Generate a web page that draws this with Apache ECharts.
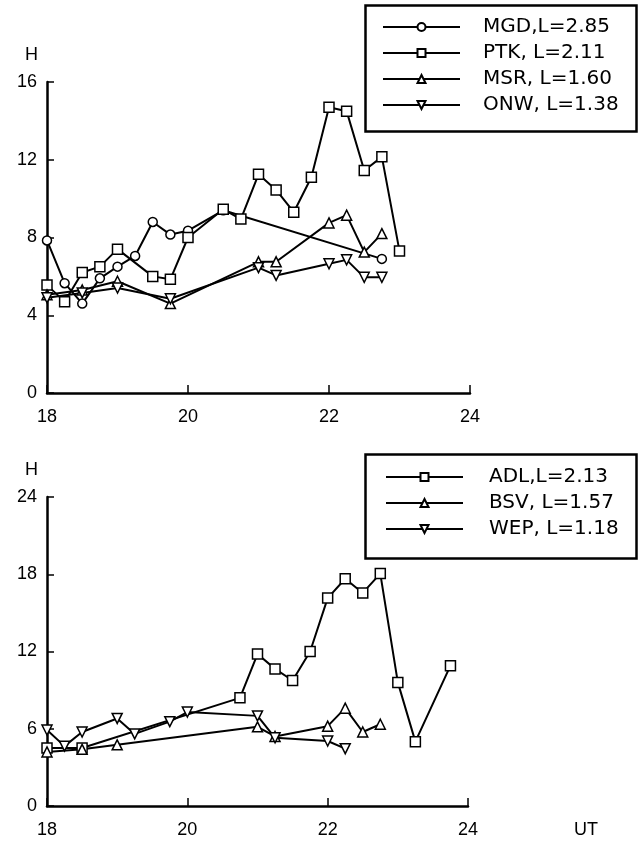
<!DOCTYPE html>
<html>
<head>
<meta charset="utf-8">
<script src="https://cdn.jsdelivr.net/npm/echarts@6/dist/echarts.min.js"></script>
<style>
  html, body { margin:0; padding:0; background:#fff; }
  #chart { width:639px; height:845px; }
</style>
</head>
<body>
<div id="chart"></div>
<script>
// top panel
const mgdUT = [18, 18.25, 18.5, 18.75, 19, 19.25, 19.5, 19.75, 20, 20.5, 22.75];
const mgdH  = [7.85, 5.65, 4.6, 5.9, 6.5, 7.05, 8.8, 8.15, 8.35, 9.4, 6.9];
const ptkUT = [18, 18.25, 18.5, 18.75, 19, 19.5, 19.75, 20, 20.5, 20.75, 21, 21.25, 21.5, 21.75, 22, 22.25, 22.5, 22.75, 23];
const ptkH  = [5.55, 4.7, 6.2, 6.5, 7.4, 6.0, 5.85, 8.0, 9.45, 8.95, 11.25, 10.45, 9.3, 11.1, 14.7, 14.5, 11.45, 12.15, 7.3];
const msrUT = [18, 18.5, 19, 19.75, 21, 21.25, 22, 22.25, 22.5, 22.75];
const msrH  = [5.05, 5.3, 5.75, 4.6, 6.75, 6.75, 8.75, 9.15, 7.25, 8.2];
const onwUT = [18, 18.5, 19, 19.75, 21, 21.25, 22, 22.25, 22.5, 22.75];
const onwH  = [4.9, 5.15, 5.4, 4.85, 6.45, 6.05, 6.65, 6.85, 5.95, 5.95];

// bottom panel
const adlUT = [18, 18.5, 20.75, 21, 21.25, 21.5, 21.75, 22, 22.25, 22.5, 22.75, 23, 23.25, 23.75];
const adlH  = [4.5, 4.5, 8.4, 11.8, 10.65, 9.75, 12.0, 16.15, 17.65, 16.55, 18.05, 9.6, 5.0, 10.9];
const bsvUT = [18, 18.5, 19, 21, 21.25, 22, 22.25, 22.5, 22.75];
const bsvH  = [4.2, 4.4, 4.75, 6.15, 5.4, 6.2, 7.6, 5.75, 6.35];
const wepUT = [18, 18.25, 18.5, 19, 19.25, 19.75, 20, 21, 21.25, 22, 22.25];
const wepH  = [5.9, 4.65, 5.75, 6.8, 5.6, 6.55, 7.3, 7.0, 5.3, 5.05, 4.45];

const xTicks = [18, 20, 22, 24];
const topTicks = [0, 4, 8, 12, 16];
const botTicks = [0, 6, 12, 18, 24];

const topNames = ["MGD,L=2.85", "PTK, L=2.11", "MSR, L=1.60", "ONW, L=1.38"];
const botNames = ["ADL,L=2.13", "BSV, L=1.57", "WEP, L=1.18"];

const FONT = "'Liberation Sans', Arial, sans-serif";
const WIDE = "'DejaVu Sans', sans-serif";

function pairs(xs, ys){ return xs.map((x,i) => [x, ys[i]]); }

function mkSeries(name, xs, ys, idx, symbol, size, rotate){
  return {
    name, type:'line', xAxisIndex: idx, yAxisIndex: idx,
    data: pairs(xs, ys),
    symbol, symbolSize: size, symbolRotate: rotate || 0,
    showAllSymbol: true,
    lineStyle: { color:'#000', width:2 },
    itemStyle: { color:'#fff', borderColor:'#000', borderWidth:1.5 },
    emphasis: { disabled: true },
    animation: false
  };
}

function xAxisCfg(idx, name){
  return {
    type:'value', gridIndex: idx, min: xTicks[0], max: xTicks[xTicks.length-1], interval: 2,
    axisLine: { lineStyle: { color:'#000', width:2.5 } },
    axisTick: { inside:true, length:8, lineStyle:{ color:'#000', width:1.5 } },
    axisLabel: { color:'#000', fontSize:18, fontFamily: FONT, margin:15 },
    splitLine: { show:false },
    name: name || '', nameLocation:'end', nameGap: 106,
    nameTextStyle: { color:'#000', fontSize:18, fontFamily: FONT, verticalAlign:'top', padding:[15,0,0,0] }
  };
}
function yAxisCfg(idx, ticks){
  return {
    type:'value', gridIndex: idx, min: ticks[0], max: ticks[ticks.length-1], interval: ticks[1]-ticks[0],
    axisLine: { show:true, lineStyle: { color:'#000', width:2.5 } },
    axisTick: { show:true, inside:true, length:7, lineStyle:{ color:'#000', width:1.5 } },
    axisLabel: { color:'#000', fontSize:18, fontFamily: FONT, margin:10 },
    splitLine: { show:false },
    name:'H', nameLocation:'end', nameGap: 18,
    nameTextStyle: { color:'#000', fontSize:18, fontFamily: FONT, align:'right', padding:[0,9,0,0] }
  };
}

function legendCfg(names, left, top, gap){
  return {
    data: names, orient:'vertical', left, top,
    itemWidth: 77, itemHeight: 10, itemGap: 6,
    selectedMode: false,
    textStyle: { color:'#000', fontSize:20, fontFamily: WIDE, lineHeight:20, padding:[0,0,0,gap] }
  };
}

const chart = echarts.init(document.getElementById('chart'));
chart.setOption({
  animation: false,
  textStyle: { fontFamily: FONT },
  grid: [
    { left:47, top:82, width:423, height:311 },
    { left:47, top:497, width:421, height:309 }
  ],
  xAxis: [ xAxisCfg(0), xAxisCfg(1, 'UT') ],
  yAxis: [ yAxisCfg(0, topTicks), yAxisCfg(1, botTicks) ],
  legend: [ legendCfg(topNames, 377, 12, 18), legendCfg(botNames, 380, 462, 21) ],
  graphic: [
    { type:'rect', left:363, top:3, shape:{ width:271, height:126 },
      style:{ fill:'none', stroke:'#000', lineWidth:2.5 }, z:-1 },
    { type:'rect', left:363, top:452, shape:{ width:271, height:104 },
      style:{ fill:'none', stroke:'#000', lineWidth:2.5 }, z:-1 }
  ],
  series: [
    mkSeries(topNames[0], mgdUT, mgdH, 0, 'circle', 9),
    mkSeries(topNames[1], ptkUT, ptkH, 0, 'rect', 10),
    mkSeries(topNames[2], msrUT, msrH, 0, 'triangle', 10),
    mkSeries(topNames[3], onwUT, onwH, 0, 'triangle', 10, 180),
    mkSeries(botNames[0], adlUT, adlH, 1, 'rect', 10),
    mkSeries(botNames[1], bsvUT, bsvH, 1, 'triangle', 10),
    mkSeries(botNames[2], wepUT, wepH, 1, 'triangle', 10, 180)
  ]
});
</script>
</body>
</html>
